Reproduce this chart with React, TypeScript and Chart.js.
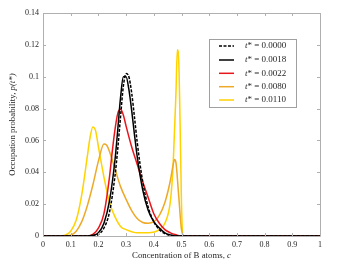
import React, { useEffect, useRef } from 'react';
import { Chart, registerables } from 'chart.js';
Chart.register(...registerables);

const legendLabels = ['0.0000', '0.0018', '0.0022', '0.0080', '0.0110'];
const xTicks = [0, 0.1, 0.2, 0.3, 0.4, 0.5, 0.6, 0.7, 0.8, 0.9, 1];
const yTicks = [0, 0.02, 0.04, 0.06, 0.08, 0.1, 0.12, 0.14];

const c0 = [0, 0.18, 0.2, 0.22, 0.24, 0.26, 0.27, 0.28, 0.29, 0.3, 0.31, 0.32, 0.33, 0.34, 0.36, 0.38, 0.4, 0.42, 0.44, 0.46, 0.48, 1];
const p0 = [0, 0, 0.001, 0.005, 0.015, 0.038, 0.055, 0.075, 0.094, 0.102, 0.1, 0.09, 0.075, 0.059, 0.034, 0.018, 0.009, 0.004, 0.0015, 0.0003, 0, 0];

const c1 = [0, 0.16, 0.18, 0.2, 0.22, 0.24, 0.26, 0.27, 0.28, 0.29, 0.3, 0.31, 0.32, 0.33, 0.34, 0.36, 0.38, 0.4, 0.42, 0.44, 0.46, 0.48, 1];
const p1 = [0, 0, 0.0005, 0.002, 0.008, 0.022, 0.048, 0.067, 0.087, 0.1, 0.1, 0.092, 0.079, 0.064, 0.05, 0.029, 0.016, 0.009, 0.005, 0.002, 0.0007, 0, 0];

const c2 = [0, 0.16, 0.18, 0.2, 0.22, 0.24, 0.25, 0.26, 0.27, 0.28, 0.29, 0.3, 0.32, 0.34, 0.36, 0.38, 0.4, 0.42, 0.44, 0.46, 0.48, 0.5, 1];
const p2 = [0, 0, 0.001, 0.005, 0.014, 0.037, 0.053, 0.067, 0.077, 0.0795, 0.076, 0.069, 0.056, 0.045, 0.034, 0.024, 0.014, 0.008, 0.004, 0.002, 0.0008, 0, 0];

const c3 = [0, 0.08, 0.1, 0.12, 0.14, 0.16, 0.18, 0.2, 0.22, 0.23, 0.24, 0.26, 0.28, 0.3, 0.32, 0.34, 0.36, 0.38, 0.4, 0.42, 0.44, 0.46, 0.47, 0.475, 0.48, 0.49, 0.5, 0.51, 1];
const p3 = [0, 0, 0.0005, 0.003, 0.009, 0.019, 0.032, 0.047, 0.0577, 0.057, 0.053, 0.042, 0.031, 0.023, 0.016, 0.011, 0.0085, 0.008, 0.009, 0.013, 0.021, 0.035, 0.045, 0.048, 0.046, 0.025, 0.004, 0, 0];

const c4 = [0, 0.06, 0.08, 0.1, 0.12, 0.14, 0.16, 0.17, 0.18, 0.19, 0.2, 0.22, 0.24, 0.26, 0.28, 0.3, 0.34, 0.38, 0.42, 0.44, 0.46, 0.47, 0.48, 0.485, 0.49, 0.495, 0.5, 0.505, 1];
const p4 = [0, 0, 0.0005, 0.003, 0.01, 0.026, 0.05, 0.062, 0.0685, 0.066, 0.056, 0.037, 0.021, 0.012, 0.006, 0.004, 0.002, 0.002, 0.004, 0.008, 0.022, 0.045, 0.09, 0.117, 0.11, 0.07, 0.02, 0, 0];

const colors = ['#000000', '#000000', '#e8161b', '#eda928', '#ffd200'];
const dashes = [[3, 1.5], [], [], [], []];

const SERIF = '"Liberation Serif", "Times New Roman", serif';

const framePlugin = {
  id: 'frame',
  afterDraw(chart: any) {
    const { ctx, chartArea } = chart;
    const { left, right, top, bottom } = chartArea;
    const xs = chart.scales.x;
    const ys = chart.scales.y;
    ctx.save();
    ctx.strokeStyle = '#b0b0b0';
    ctx.lineWidth = 1;
    ctx.beginPath();
    ctx.rect(Math.round(left) + 0.5, Math.round(top) + 0.5, Math.round(right - left), Math.round(bottom - top));
    ctx.stroke();
    ctx.beginPath();
    const tl = 3;
    xTicks.forEach((t) => {
      const x = Math.round(xs.getPixelForValue(t)) + 0.5;
      ctx.moveTo(x, bottom);
      ctx.lineTo(x, bottom - tl);
      ctx.moveTo(x, top);
      ctx.lineTo(x, top + tl);
    });
    yTicks.forEach((t) => {
      const y = Math.round(ys.getPixelForValue(t)) + 0.5;
      ctx.moveTo(left, y);
      ctx.lineTo(left + tl, y);
      ctx.moveTo(right, y);
      ctx.lineTo(right - tl, y);
    });
    ctx.stroke();

    // axis titles
    ctx.fillStyle = '#262626';
    ctx.textBaseline = 'middle';
    const fs = 8.8;
    const reg = `${fs}px ${SERIF}`;
    const ita = `italic ${fs}px ${SERIF}`;
    const xa = 'Concentration of B atoms, ';
    const xb = 'c';
    ctx.font = reg;
    const wa = ctx.measureText(xa).width;
    ctx.font = ita;
    const wb = ctx.measureText(xb).width;
    const sx = (left + right) / 2 - (wa + wb) / 2;
    ctx.textAlign = 'left';
    ctx.font = reg;
    ctx.fillText(xa, sx, 256);
    ctx.font = ita;
    ctx.fillText(xb, sx + wa, 256);
    const ya = 'Occupation probability, ';
    const yb = 'p(t*)';
    ctx.font = reg;
    const wya = ctx.measureText(ya).width;
    ctx.font = ita;
    const wyb = ctx.measureText(yb).width;
    ctx.translate(12.5, (top + bottom) / 2);
    ctx.rotate(-Math.PI / 2);
    const sy = -(wya + wyb) / 2;
    ctx.font = reg;
    ctx.fillText(ya, sy, 0);
    ctx.font = ita;
    ctx.fillText(yb, sy + wya, 0);
    ctx.restore();

    // legend
    ctx.save();
    const lx = 209.5, ly = 39.5, lw = 87, lh = 68;
    ctx.fillStyle = '#ffffff';
    ctx.fillRect(lx, ly, lw, lh);
    ctx.strokeStyle = '#a0a0a0';
    ctx.lineWidth = 1;
    ctx.strokeRect(lx, ly, lw, lh);
    const rows = [46, 60, 73.3, 86.7, 100];
    const lf = 9;
    chart.data.datasets.forEach((ds: any, i: number) => {
      const y = rows[i];
      ctx.strokeStyle = ds.borderColor;
      ctx.lineWidth = 1.5;
      ctx.setLineDash(ds.borderDash || []);
      ctx.beginPath();
      ctx.moveTo(219, y);
      ctx.lineTo(234, y);
      ctx.stroke();
      ctx.setLineDash([]);
      ctx.fillStyle = '#262626';
      ctx.textBaseline = 'middle';
      ctx.textAlign = 'left';
      ctx.font = `italic ${lf}px ${SERIF}`;
      ctx.fillText('t', 245, y);
      const tw = ctx.measureText('t').width;
      ctx.font = `${lf}px ${SERIF}`;
      ctx.fillText('* = ' + legendLabels[i], 245 + tw, y);
    });
    ctx.restore();
  },
};

export default function App() {
  const ref = useRef<HTMLCanvasElement | null>(null);
  useEffect(() => {
    if (!ref.current) return;
    const mk = (cs: number[], ps: number[]) => cs.map((c, i) => ({ x: c, y: ps[i] }));
    const series = [mk(c0, p0), mk(c1, p1), mk(c2, p2), mk(c3, p3), mk(c4, p4)];
    const chart = new Chart(ref.current, {
      type: 'line',
      data: {
        datasets: series.map((d, i) => ({
          label: 't* = ' + legendLabels[i],
          data: d,
          borderColor: colors[i],
          borderWidth: 1.5,
          borderDash: dashes[i],
          pointRadius: 0,
          fill: false,
          cubicInterpolationMode: 'monotone' as const,
        })),
      },
      options: {
        responsive: false,
        animation: false,
        layout: { padding: { left: 0, right: 17, top: 13, bottom: 0 } },
        plugins: { legend: { display: false }, tooltip: { enabled: false } },
        scales: {
          x: {
            type: 'linear',
            min: 0,
            max: 1,
            grid: { display: false, drawTicks: false },
            border: { display: false },
            afterBuildTicks: (s: any) => { s.ticks = xTicks.map((v) => ({ value: v })); },
            afterFit: (s: any) => { s.height = 32; },
            ticks: {
              color: '#262626',
              font: { family: SERIF, size: 8 },
              padding: 4,
              maxRotation: 0,
              autoSkip: false,
              callback: (v: any) => String(Math.round(Number(v) * 10) / 10),
            },
          },
          y: {
            type: 'linear',
            min: 0,
            max: 0.14,
            grid: { display: false, drawTicks: false },
            border: { display: false },
            afterBuildTicks: (s: any) => { s.ticks = yTicks.map((v) => ({ value: v })); },
            afterFit: (s: any) => { s.width = 43; },
            ticks: {
              color: '#262626',
              font: { family: SERIF, size: 8 },
              padding: 4,
              autoSkip: false,
              callback: (v: any) => String(Math.round(Number(v) * 100) / 100),
            },
          },
        },
      },
      plugins: [framePlugin],
    });
    return () => chart.destroy();
  }, []);
  return (
    <div style={{ position: 'absolute', left: 0, top: 0, width: 337, height: 268, background: '#fff' }}>
      <canvas ref={ref} width={337} height={268} style={{ width: 337, height: 268, display: 'block' }} />
    </div>
  );
}
